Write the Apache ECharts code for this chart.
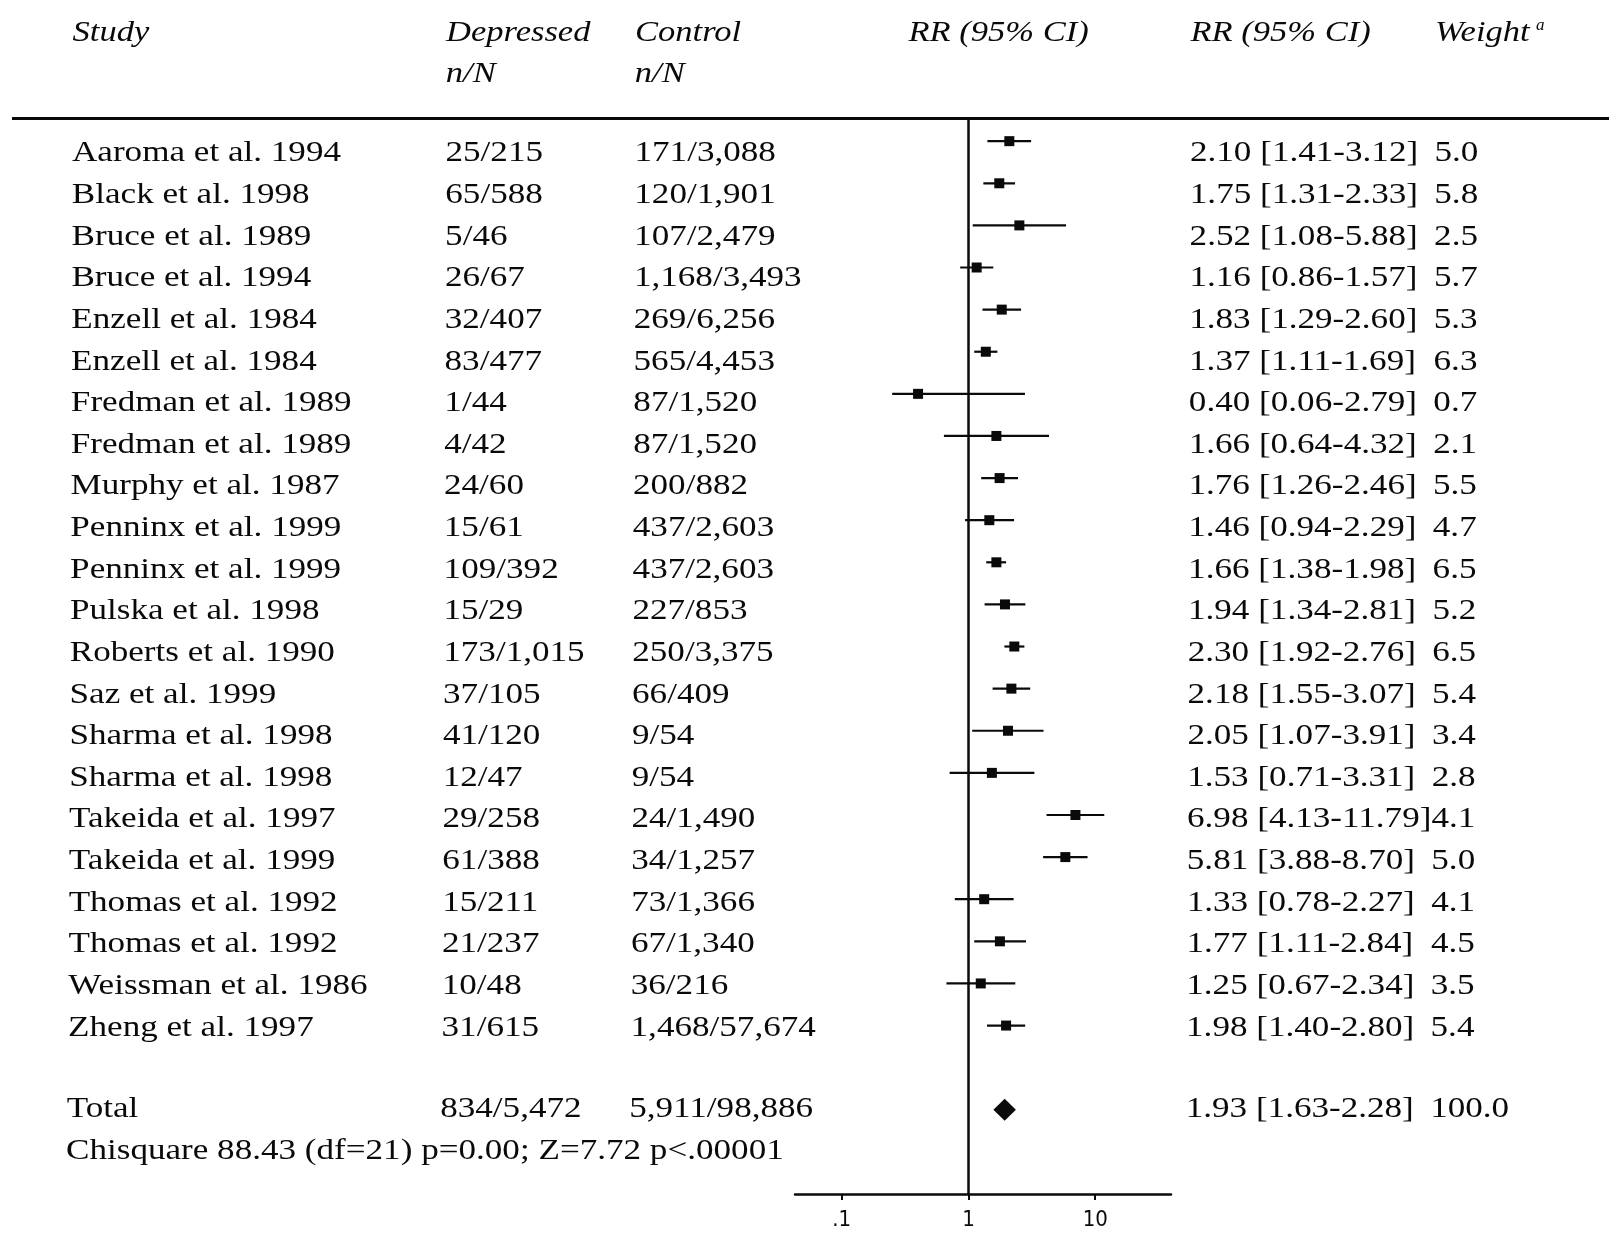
<!DOCTYPE html>
<html>
<head>
<meta charset="utf-8">
<script src="https://cdn.jsdelivr.net/npm/echarts@6/dist/echarts.min.js"></script>
<style>
html,body{margin:0;padding:0;background:#fff;}
#chart{width:1609px;height:1237px;}
</style>
</head>
<body>
<div id="chart"></div>
<script>
// ---------- data ----------
var studies = ["Aaroma et al. 1994","Black et al. 1998","Bruce et al. 1989","Bruce et al. 1994","Enzell et al. 1984","Enzell et al. 1984","Fredman et al. 1989","Fredman et al. 1989","Murphy et al. 1987","Penninx et al. 1999","Penninx et al. 1999","Pulska et al. 1998","Roberts et al. 1990","Saz et al. 1999","Sharma et al. 1998","Sharma et al. 1998","Takeida et al. 1997","Takeida et al. 1999","Thomas et al. 1992","Thomas et al. 1992","Weissman et al. 1986","Zheng et al. 1997"];
var depressed = ["25/215","65/588","5/46","26/67","32/407","83/477","1/44","4/42","24/60","15/61","109/392","15/29","173/1,015","37/105","41/120","12/47","29/258","61/388","15/211","21/237","10/48","31/615"];
var control = ["171/3,088","120/1,901","107/2,479","1,168/3,493","269/6,256","565/4,453","87/1,520","87/1,520","200/882","437/2,603","437/2,603","227/853","250/3,375","66/409","9/54","9/54","24/1,490","34/1,257","73/1,366","67/1,340","36/216","1,468/57,674"];
var ciText = ["2.10 [1.41-3.12]","1.75 [1.31-2.33]","2.52 [1.08-5.88]","1.16 [0.86-1.57]","1.83 [1.29-2.60]","1.37 [1.11-1.69]","0.40 [0.06-2.79]","1.66 [0.64-4.32]","1.76 [1.26-2.46]","1.46 [0.94-2.29]","1.66 [1.38-1.98]","1.94 [1.34-2.81]","2.30 [1.92-2.76]","2.18 [1.55-3.07]","2.05 [1.07-3.91]","1.53 [0.71-3.31]","6.98 [4.13-11.79]","5.81 [3.88-8.70]","1.33 [0.78-2.27]","1.77 [1.11-2.84]","1.25 [0.67-2.34]","1.98 [1.40-2.80]"];
var weights = ["5.0","5.8","2.5","5.7","5.3","6.3","0.7","2.1","5.5","4.7","6.5","5.2","6.5","5.4","3.4","2.8","4.1","5.0","4.1","4.5","3.5","5.4"];
// plotted estimates and whisker ends (as drawn in the plot panel)
var rr = [2.10,1.75,2.52,1.16,1.83,1.37,0.40,1.66,1.76,1.46,1.66,1.94,2.30,2.18,2.05,1.53,6.98,5.81,1.33,1.77,1.25,1.98];
var ciLow = [1.41,1.31,1.08,0.86,1.29,1.11,0.25,0.64,1.26,0.94,1.38,1.34,1.92,1.55,1.07,0.71,4.13,3.88,0.78,1.11,0.67,1.40];
var ciHigh = [3.12,2.33,5.88,1.57,2.60,1.69,2.79,4.32,2.46,2.29,1.98,2.81,2.76,3.07,3.91,3.31,11.79,8.70,2.27,2.84,2.34,2.80];
var total = {label:"Total", depressed:"834/5,472", control:"5,911/98,886", ci:"1.93 [1.63-2.28]", weight:"100.0", rr:1.93, low:1.63, high:2.28};
var testLine = "Chisquare 88.43 (df=21) p=0.00; Z=7.72 p<.00001";
var headers1 = ["Study","Depressed","Control","RR (95% CI)","RR (95% CI)","Weight"];
var headers2 = ["","n/N","n/N","","",""];
var tickValues = [0.1, 1, 10];
var tickLabels = [".1", "1", "10"];

// ---------- layout ----------
var INK = '#0a0a0a';
var bodyFont = '30px "Liberation Serif", "Times New Roman", serif';
var headFont = 'italic 30px "Liberation Serif", "Times New Roman", serif';
var colX = [72, 445.5, 634.5, 908, 1190, 1434.5];
var rowY0 = 153.5, rowStep = 41.63;
function tilt(y){ return -(y - 153) * 0.0045; }

var graphics = [];
function addText(x, y, txt, font, sx){
  graphics.push({type:'text', x: x + tilt(y), y: y, scaleX: sx, silent:true,
    style:{text: txt, font: font, fill: INK, align:'left', verticalAlign:'middle'}});
}
// headers
for (var h = 0; h < headers1.length; h++) {
  addText(colX[h], 33, headers1[h], headFont, 1.15);
  if (headers2[h]) addText(colX[h], 74, headers2[h], headFont, 1.15);
}
graphics.push({type:'text', x:1536, y:26, silent:true,
  style:{text:'a', font:'italic 17px "Liberation Serif", serif', fill:INK, verticalAlign:'middle'}});
// header rule
graphics.push({type:'line', silent:true, shape:{x1:12, y1:118.5, x2:1609, y2:118.5},
  style:{stroke:INK, lineWidth:3}});
// table rows
for (var i = 0; i < studies.length; i++) {
  var y = rowY0 + rowStep * i;
  addText(colX[0], y, studies[i], bodyFont, 1.17);
  addText(colX[1], y, depressed[i], bodyFont, 1.17);
  addText(colX[2], y, control[i], bodyFont, 1.17);
  addText(colX[4], y, ciText[i], bodyFont, 1.17);
  addText(colX[5], y, weights[i], bodyFont, 1.17);
}
var ty = 1109.3;
addText(colX[0] - 1, ty, total.label, bodyFont, 1.17);
addText(colX[1] - 1, ty, total.depressed, bodyFont, 1.17);
addText(colX[2] - 1, ty, total.control, bodyFont, 1.17);
addText(colX[4], ty, total.ci, bodyFont, 1.17);
addText(colX[5], ty, total.weight, bodyFont, 1.17);
addText(colX[0] - 1.5, 1151.3, testLine, bodyFont, 1.17);

// ---------- plot data ----------
var l10 = function(v){ return Math.log10(v); };
var studyData = rr.map(function(v, i){ return [l10(v), i, l10(ciLow[i]), l10(ciHigh[i])]; });
var totalData = [[l10(total.rr), 23, l10(total.low), l10(total.high)]];

var chart = echarts.init(document.getElementById('chart'), null, {renderer:'canvas'});
chart.setOption({
  animation:false,
  backgroundColor:'#fff',
  grid:{left:795, width:376, top:118, height:1076, containLabel:false},
  xAxis:{
    type:'value', min:-1.369, max:1.598,
    splitLine:{show:false},
    axisLine:{show:true, onZero:false, lineStyle:{color:INK, width:2.5}},
    axisTick:{show:true, customValues:tickValues.map(l10), length:6, lineStyle:{color:INK, width:2}},
    axisLabel:{show:true, customValues:tickValues.map(l10), margin:15, color:INK,
      fontFamily:'"Liberation Sans Narrow","DejaVu Sans Condensed","Liberation Sans",sans-serif', fontSize:22,
      formatter:function(v){ for (var k=0;k<tickValues.length;k++){ if (Math.abs(l10(tickValues[k])-v)<1e-6) return tickLabels[k]; } return ''; }}
  },
  yAxis:{type:'value', inverse:true, min:-0.55, max:25, show:false},
  series:[
    {
      type:'custom', name:'studies', data:studyData, clip:false,
      renderItem:function(params, api){
        var c = api.coord([api.value(0), api.value(1)]);
        var a = api.coord([api.value(2), api.value(1)]);
        var b = api.coord([api.value(3), api.value(1)]);
        var s = 10;
        return {type:'group', children:[
          {type:'line', shape:{x1:a[0], y1:a[1], x2:b[0], y2:b[1]}, style:{stroke:INK, lineWidth:2.2}},
          {type:'rect', shape:{x:c[0]-s/2, y:c[1]-s/2, width:s, height:s}, style:{fill:INK}}
        ]};
      },
      markLine:{silent:true, symbol:'none', animation:false,
        label:{show:false}, lineStyle:{color:INK, width:2.5, type:'solid'},
        data:[{xAxis:0}]}
    },
    {
      type:'custom', name:'total', data:totalData, clip:false,
      renderItem:function(params, api){
        var c = api.coord([api.value(0), api.value(1)]);
        var a = api.coord([api.value(2), api.value(1)]);
        var b = api.coord([api.value(3), api.value(1)]);
        var hh = 11;
        return {type:'polygon', shape:{points:[[a[0]-2,c[1]],[c[0],c[1]-hh],[b[0]+2,c[1]],[c[0],c[1]+hh]]},
          style:{fill:INK}};
      }
    }
  ],
  graphic:graphics
});
</script>
</body>
</html>
